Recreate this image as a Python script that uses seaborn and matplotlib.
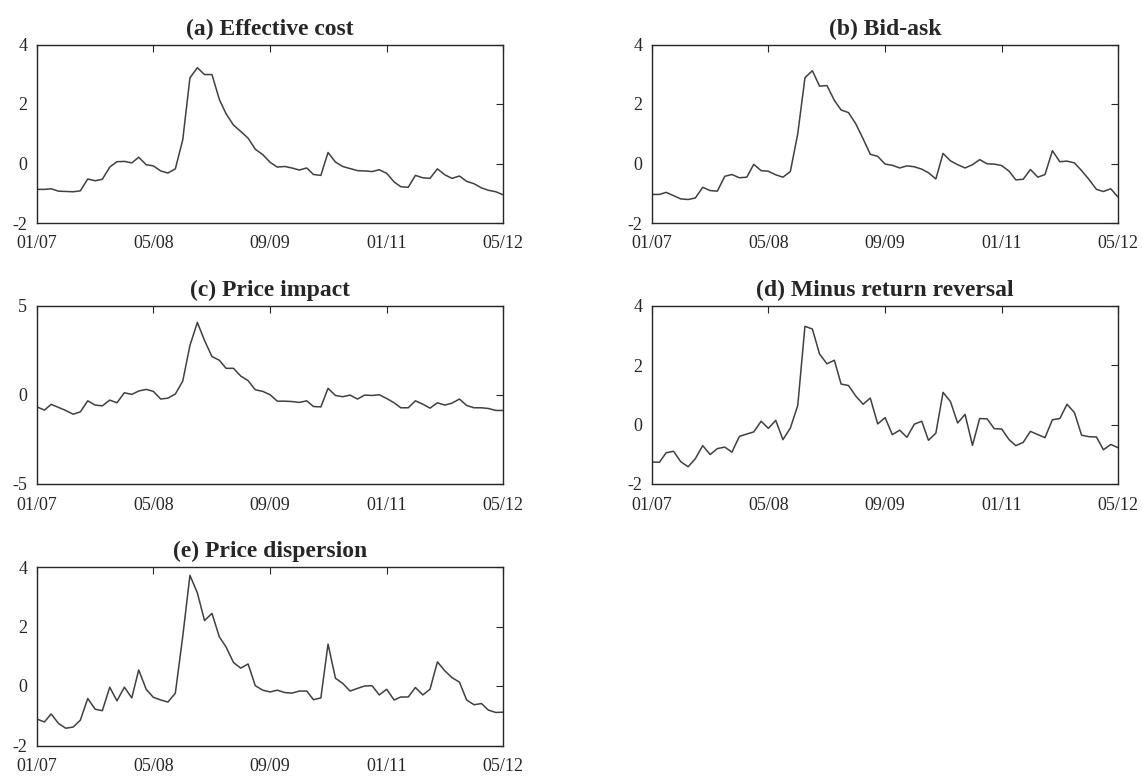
import pandas as pd
import numpy as np
import matplotlib
matplotlib.use("Agg")
import matplotlib.pyplot as plt
import matplotlib.dates as mdates
import seaborn as sns

# monthly series, 01/2007 .. 05/2012 (65 months)
effective_cost = [-0.87, -0.87, -0.85, -0.93, -0.94, -0.95, -0.92, -0.52, -0.58, -0.53,
                  -0.12, 0.06, 0.07, 0.02, 0.21, -0.04, -0.08, -0.25, -0.32, -0.18,
                  0.80, 2.88, 3.22, 2.99, 2.99, 2.15, 1.67, 1.29, 1.08, 0.85,
                  0.48, 0.30, 0.04, -0.12, -0.10, -0.15, -0.22, -0.15, -0.37, -0.40,
                  0.37, 0.05, -0.10, -0.17, -0.24, -0.25, -0.27, -0.21, -0.33, -0.62,
                  -0.78, -0.80, -0.40, -0.48, -0.50, -0.18, -0.38, -0.50, -0.42, -0.60,
                  -0.68, -0.82, -0.90, -0.95, -1.05]

bid_ask = [-1.04, -1.04, -0.97, -1.08, -1.19, -1.21, -1.16, -0.80, -0.91, -0.93,
           -0.43, -0.37, -0.48, -0.46, -0.03, -0.24, -0.26, -0.38, -0.46, -0.27,
           1.00, 2.88, 3.12, 2.60, 2.62, 2.12, 1.80, 1.71, 1.34, 0.83,
           0.31, 0.24, -0.02, -0.06, -0.15, -0.08, -0.11, -0.19, -0.31, -0.52,
           0.34, 0.09, -0.04, -0.15, -0.04, 0.13, -0.01, -0.02, -0.07, -0.26,
           -0.55, -0.53, -0.20, -0.46, -0.37, 0.43, 0.06, 0.08, 0.02, -0.24,
           -0.54, -0.87, -0.94, -0.85, -1.13]

price_impact = [-0.68, -0.86, -0.54, -0.71, -0.88, -1.09, -0.96, -0.34, -0.58, -0.62,
                -0.30, -0.45, 0.11, 0.02, 0.21, 0.30, 0.19, -0.24, -0.19, 0.04,
                0.77, 2.76, 4.05, 3.04, 2.14, 1.93, 1.48, 1.48, 1.05, 0.79,
                0.28, 0.19, 0.00, -0.36, -0.36, -0.38, -0.43, -0.34, -0.66, -0.68,
                0.36, -0.04, -0.11, -0.02, -0.24, -0.02, -0.04, 0.00, -0.21, -0.45,
                -0.73, -0.73, -0.34, -0.53, -0.75, -0.45, -0.58, -0.47, -0.24, -0.60,
                -0.73, -0.73, -0.77, -0.88, -0.88]

minus_reversal = [-1.26, -1.27, -0.95, -0.90, -1.25, -1.42, -1.15, -0.71, -1.01, -0.81,
                  -0.76, -0.93, -0.40, -0.32, -0.25, 0.11, -0.13, 0.14, -0.51, -0.12,
                  0.64, 3.30, 3.21, 2.37, 2.04, 2.16, 1.36, 1.31, 0.96, 0.68,
                  0.89, 0.02, 0.23, -0.34, -0.19, -0.43, 0.01, 0.11, -0.53, -0.29,
                  1.08, 0.77, 0.05, 0.34, -0.70, 0.20, 0.19, -0.14, -0.15, -0.51,
                  -0.71, -0.60, -0.23, -0.34, -0.44, 0.16, 0.20, 0.68, 0.40, -0.36,
                  -0.41, -0.42, -0.85, -0.67, -0.78]

price_dispersion = [-1.11, -1.21, -0.94, -1.26, -1.42, -1.38, -1.15, -0.42, -0.78, -0.83,
                    -0.04, -0.50, -0.04, -0.40, 0.54, -0.11, -0.38, -0.47, -0.54, -0.24,
                    1.67, 3.72, 3.13, 2.20, 2.44, 1.65, 1.31, 0.79, 0.60, 0.74,
                    0.01, -0.14, -0.20, -0.14, -0.22, -0.24, -0.17, -0.17, -0.46, -0.40,
                    1.41, 0.26, 0.09, -0.17, -0.08, 0.00, 0.01, -0.30, -0.11, -0.47,
                    -0.37, -0.37, -0.05, -0.30, -0.11, 0.81, 0.51, 0.28, 0.13, -0.47,
                    -0.63, -0.59, -0.81, -0.89, -0.88]

titles = ["(a) Effective cost", "(b) Bid-ask", "(c) Price impact",
          "(d) Minus return reversal", "(e) Price dispersion"]
series = [effective_cost, bid_ask, price_impact, minus_reversal, price_dispersion]
y_ticks = [[-2, 0, 2, 4], [-2, 0, 2, 4], [-5, 0, 5], [-2, 0, 2, 4], [-2, 0, 2, 4]]
x_tick_labels = ["2007-01", "2008-05", "2009-09", "2011-01", "2012-05"]

dates = pd.date_range("2007-01-01", periods=len(effective_cost), freq="MS")

sns.set_style("white")
plt.rcParams["font.family"] = ["Liberation Serif", "DejaVu Serif"]
plt.rcParams["axes.unicode_minus"] = False

fig = plt.figure(figsize=(11.42, 7.8), dpi=100)

# axes boxes in pixels (left, top) measured on the original, 466 x 178 each
lefts = [37, 652, 37, 652, 37]
tops = [44.5, 44.5, 305.5, 305.5, 567]
W, H = 466, 178.5

for i in range(5):
    ax = fig.add_axes([lefts[i] / 1142, (780 - tops[i] - H) / 780, W / 1142, H / 780])
    df = pd.DataFrame({"date": dates, "value": series[i]})
    sns.lineplot(data=df, x="date", y="value", ax=ax, color="#404040", linewidth=1.1)
    ax.set_xlim(dates[0], dates[-1])
    ax.set_ylim(y_ticks[i][0], y_ticks[i][-1])
    ax.set_yticks(y_ticks[i])
    ax.set_xticks(pd.to_datetime(x_tick_labels))
    ax.xaxis.set_major_formatter(mdates.DateFormatter("%m/%y"))
    ax.set_xlabel("")
    ax.set_ylabel("")
    ax.set_title(titles[i], fontsize=17, fontweight="bold", pad=7)
    ax.tick_params(direction="in", length=5, width=0.8, top=True, right=True,
                   labelsize=13, colors="#262626")
    ax.tick_params(axis="x", pad=9)
    ax.tick_params(axis="y", pad=7)
    for s in ax.spines.values():
        s.set_visible(True)
        s.set_color("#262626")
        s.set_linewidth(1.0)

fig.savefig("out.png", dpi=100)
